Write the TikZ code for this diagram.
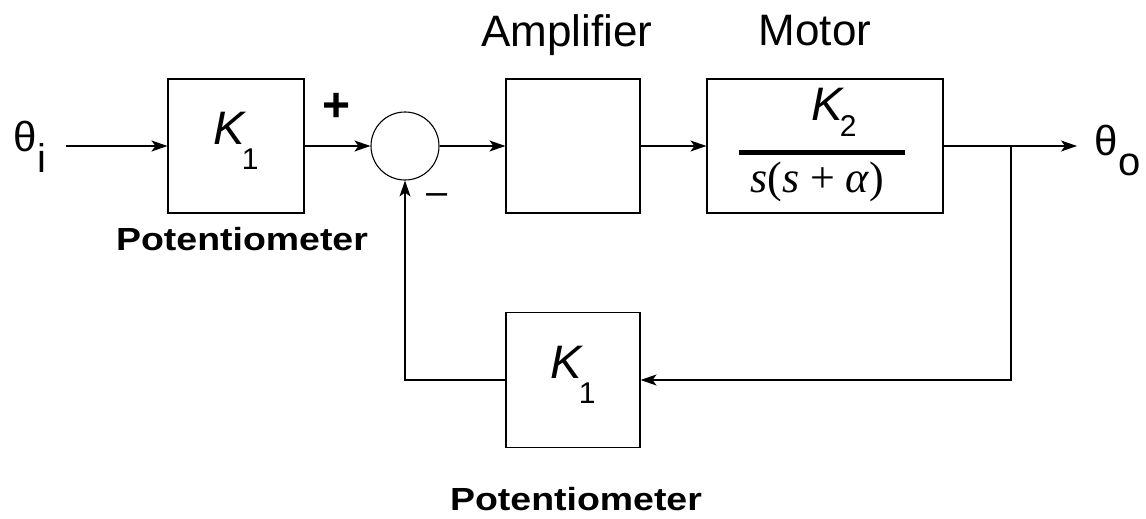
\documentclass[tikz,border=0pt]{standalone}
\usepackage{fontspec}
\setmainfont{Liberation Sans}
\newfontfamily\tiempos{Liberation Serif}
\usepackage{tikz}
\usetikzlibrary{arrows.meta}
\newcommand{\ganancia}[3][25pt]{\raisebox{0pt}[20pt][24pt]{\fontsize{47}{47}\selectfont\itshape #2\kern-3pt\raisebox{-#1}{\upshape\fontsize{30}{30}\selectfont #3}}}
\newcommand{\senal}[3][21pt]{{\fontsize{42}{42}\selectfont θ\kern1pt\raisebox{-#1}{\fontsize{40}{40}\selectfont #3}}}
\newcommand{\potlabel}{\scalebox{1.17}[1]{\fontsize{32}{32}\selectfont\bfseries Potentiometer}}

\begin{document}
\begin{tikzpicture}[x=1pt,y=-1pt,>={Stealth[length=16pt,width=11pt,inset=4pt]},
  bloque/.style={draw,line width=1.1pt,minimum width=134,minimum height=134,inner sep=0pt},
  suma/.style={draw,line width=1.1pt,circle,minimum size=68,inner sep=0pt},
  flecha/.style={->,line width=1.1pt},
  etiqueta/.style={font=\fontsize{44}{44}\selectfont,inner sep=0pt}]
  \useasboundingbox (0,0) rectangle (1146,519);

  \node[bloque,minimum width=136] (pot1) at (236,146) {\ganancia{K}{1}};
  \node[suma] (sum) at (405,146) {};
  \node[bloque] (amp) at (573,146) {};
  \node[bloque,minimum width=236] (mot) at (825,146) {};
  \node[bloque,minimum height=135] (pot2) at (573,380) {\ganancia{K}{1}};

  \node[anchor=base east,inner xsep=19pt,inner ysep=0pt] (thi) at (66,151) {\senal{θ}{i}};
  \node[anchor=base west,inner xsep=17pt,inner ysep=0pt] (tho) at (1077,155) {\senal[20pt]{θ}{o}};
  \coordinate (br) at (1011,146);

  % textos de los bloques
  \node[etiqueta,anchor=base] (etqamp) at (567,47) {Amplifier};
  \node[etiqueta,anchor=base] (etqmot) at (815,46) {Motor};
  \node[anchor=base,inner sep=0pt] (etqpot1) at (242,250) {\potlabel};
  \node[anchor=base,inner sep=0pt] (etqpot2) at (576,510) {\potlabel};
  \node[anchor=base,inner sep=0pt] (motnum) at (834,120) {\ganancia[17pt]{K}{2}};
  \node[anchor=base,inner sep=0pt] (motden) at (817,192)
    {\fontsize{44}{44}\selectfont\tiempos\itshape s\upshape(\itshape s\upshape\ + \itshape α\upshape)};
  \draw[line width=5pt] (739,152) -- (905,152);
  \node[inner sep=0pt,font=\fontsize{48}{48}\selectfont\bfseries] (mas) at (337,107) {+};
  \node[inner sep=0pt,font=\fontsize{38}{38}\selectfont] (menos) at (437,199) {–};

  \draw[flecha] (thi.east |- pot1) -- (pot1);
  \draw[flecha] (pot1) -- (sum);
  \draw[flecha] (sum) -- (amp);
  \draw[flecha] (amp) -- (mot);
  \draw[flecha] (mot) -- (tho.west |- mot);
  % lazo de realimentacion
  \draw[flecha] (br) |- (pot2);
  \draw[flecha] (pot2) -| (sum);
\end{tikzpicture}
\end{document}
